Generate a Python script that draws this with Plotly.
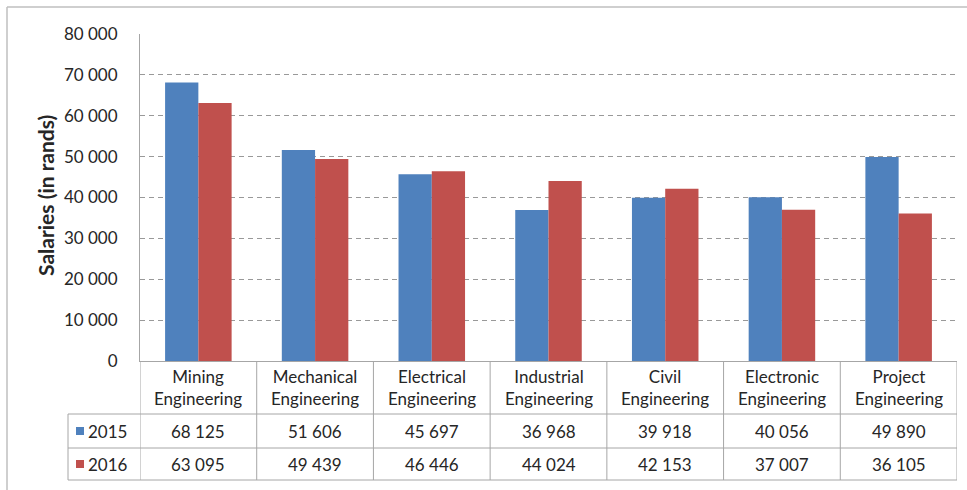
import plotly.graph_objects as go

categories = ["Mining<br>Engineering", "Mechanical<br>Engineering", "Electrical<br>Engineering",
              "Industrial<br>Engineering", "Civil<br>Engineering", "Electronic<br>Engineering",
              "Project<br>Engineering"]
series_names = ["2015", "2016"]
values_2015 = [68125, 51606, 45697, 36968, 39918, 40056, 49890]
values_2016 = [63095, 49439, 46446, 44024, 42153, 37007, 36105]
y_ticks = [0, 10000, 20000, 30000, 40000, 50000, 60000, 70000, 80000]

colors = ["#4f81bd", "#c0504d"]
grid_col = "#a6a6a6"
text_col = "#262626"
font_family = "Lato, 'Open Sans', sans-serif"
fsize = 17

W, H = 967, 490
L, R, T, B = 140, 10, 34, 129
PW, PH = W - L - R, H - T - B


def px_x(px):
    return (px - L) / PW


def px_y(py):
    return (H - B - py) / PH


def fmt(v):
    return f"{v:,}".replace(",", " ")


xs = list(range(len(categories)))
fig = go.Figure()
for name, vals, col in zip(series_names, [values_2015, values_2016], colors):
    fig.add_trace(go.Bar(x=xs, y=vals, name=name, marker=dict(color=col, line=dict(width=0)),
                         hoverinfo="y"))

shapes = []
annotations = []
line_style = dict(color=grid_col, width=1)
txt_font = dict(size=fsize, color=text_col, family=font_family)

# table: vertical dividers between category columns
row1_y, row2_y, bottom_y = 414, 448, 480
for i in range(len(categories) + 1):
    shapes.append(dict(type="line", xref="x", yref="paper", x0=i - 0.5, x1=i - 0.5,
                       y0=px_y(H - B), y1=px_y(bottom_y), line=line_style))
# horizontal rules of the table
for py in (row1_y, row2_y, bottom_y):
    shapes.append(dict(type="line", xref="paper", yref="paper", x0=px_x(68), x1=1,
                       y0=px_y(py), y1=px_y(py), line=line_style))
# legend column left edge
shapes.append(dict(type="line", xref="paper", yref="paper", x0=px_x(68), x1=px_x(68),
                   y0=px_y(row1_y), y1=px_y(bottom_y), line=line_style))
# outer chart border (left and top)
shapes.append(dict(type="line", xref="paper", yref="paper", x0=px_x(7), x1=px_x(W + 5),
                   y0=px_y(7), y1=px_y(7), line=dict(color="#bfbfbf", width=1.5)))
shapes.append(dict(type="line", xref="paper", yref="paper", x0=px_x(7), x1=px_x(7),
                   y0=px_y(7), y1=px_y(H + 5), line=dict(color="#bfbfbf", width=1.5)))

# category header cells
for i, cat in enumerate(categories):
    annotations.append(dict(x=i, y=px_y((H - B + row1_y) / 2), xref="x", yref="paper",
                            xanchor="center", yanchor="middle",
                            text=cat, showarrow=False, align="center", font=txt_font))

# value rows with legend keys
for r, (name, vals, col) in enumerate(zip(series_names, [values_2015, values_2016], colors)):
    top = row1_y if r == 0 else row2_y
    bot = row2_y if r == 0 else bottom_y
    cy = px_y((top + bot) / 2)
    for i, v in enumerate(vals):
        annotations.append(dict(x=i, y=cy, xref="x", yref="paper", text=fmt(v),
                                xanchor="center", yanchor="middle",
                                showarrow=False, font=txt_font))
    shapes.append(dict(type="rect", xref="paper", yref="paper",
                       x0=px_x(76), x1=px_x(84), y0=cy - 4 / PH, y1=cy + 4 / PH,
                       fillcolor=col, line=dict(width=0)))
    annotations.append(dict(x=px_x(86), y=cy, xref="paper", yref="paper", text=name,
                            showarrow=False, xanchor="left", yanchor="middle", font=txt_font))

# y axis title
annotations.append(dict(x=px_x(45), y=px_y(196), xref="paper", yref="paper",
                        xanchor="center", yanchor="middle",
                        text="<b>Salaries (in rands)</b>", textangle=-90, showarrow=False,
                        font=dict(size=21, color=text_col, family=font_family)))

fig.update_layout(
    width=W, height=H,
    margin=dict(l=L, r=R, t=T, b=B, pad=0),
    paper_bgcolor="white", plot_bgcolor="white",
    barmode="group", bargap=0.43, bargroupgap=0,
    showlegend=False,
    separators=". ",
    shapes=shapes, annotations=annotations,
    xaxis=dict(range=[-0.5, len(categories) - 0.5], showticklabels=False, showgrid=False,
               zeroline=False, showline=True, linecolor=grid_col, linewidth=1, ticks=""),
    yaxis=dict(range=[0, 80000], tickvals=y_ticks, tickformat=",d",
               showgrid=True, gridcolor="#999999", gridwidth=1, griddash="5px,4px",
               zeroline=False, showline=True, linecolor=grid_col, linewidth=1,
               ticks="", ticklabelstandoff=18, tickfont=txt_font),
    font=dict(family=font_family, color=text_col),
)

fig.write_html("out.html")
